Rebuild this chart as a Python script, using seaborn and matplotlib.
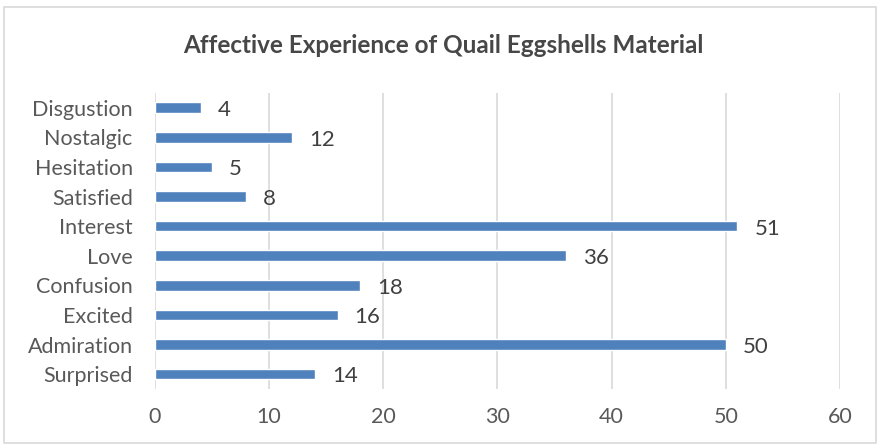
import matplotlib
matplotlib.use("Agg")
import matplotlib.pyplot as plt
import seaborn as sns
import pandas as pd
from matplotlib.patches import Rectangle

categories = ["Disgustion", "Nostalgic", "Hesitation", "Satisfied", "Interest",
              "Love", "Confusion", "Excited", "Admiration", "Surprised"]
values = [4, 12, 5, 8, 51, 36, 18, 16, 50, 14]
xticks = [0, 10, 20, 30, 40, 50, 60]

sns.set_theme(style="white")
plt.rcParams['font.family'] = ['Lato', 'DejaVu Sans']

df = pd.DataFrame({"cat": categories, "val": values})

fig = plt.figure(figsize=(8.8, 4.47), dpi=100)
ax = fig.add_axes([0.176, 0.130, 0.7785, 0.662])
sns.barplot(data=df, x="val", y="cat", order=categories, color="#4F81BD",
            saturation=1, width=0.36, ax=ax)

ax.set_xlim(0, 60)
ax.set_xticks(xticks)
ax.set_xticklabels([str(t) for t in xticks])
ax.grid(axis="x", color="#D9D9D9", linewidth=1.2)
ax.set_axisbelow(True)
for s in ax.spines.values():
    s.set_visible(False)
ax.set_xlabel("")
ax.set_ylabel("")
ax.tick_params(axis="both", length=0, labelsize=15.5, colors="#595959")
ax.tick_params(axis="x", pad=13)
ax.tick_params(axis="y", pad=16)

for i, v in enumerate(values):
    ax.text(v + 1.5, i + 0.08, str(v), va="center", ha="left", fontsize=16, color="#404040")

fig.text(0.504, 0.898, "Affective Experience of Quail Eggshells Material",
         ha="center", va="center", fontsize=17.5, fontweight="bold", color="#474747")

fig.patches.append(Rectangle((0.004, 0.01), 0.992, 0.975, transform=fig.transFigure,
                             fill=False, edgecolor="#D9D9D9", linewidth=1.2))

fig.savefig("out.png", dpi=100)
